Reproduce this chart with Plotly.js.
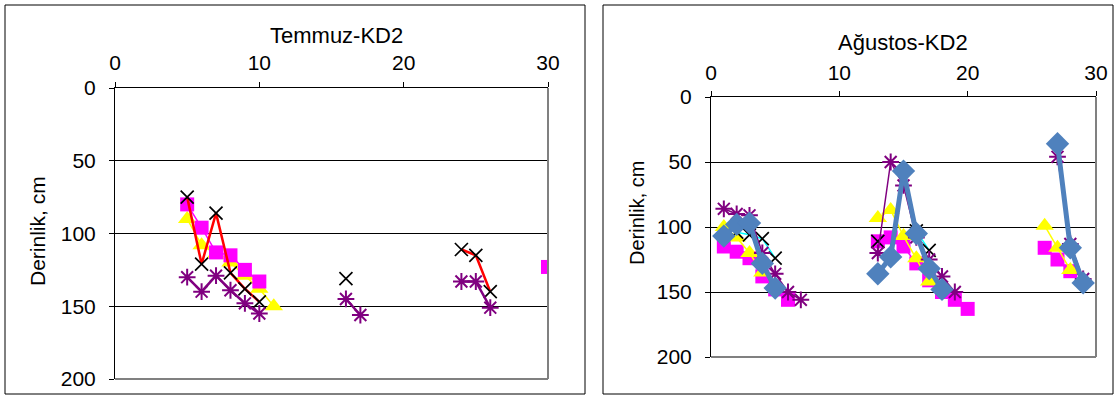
<!DOCTYPE html>
<html>
<head>
<meta charset="utf-8">
<script src="https://cdn.plot.ly/plotly-3.0.1.min.js"></script>
<style>html,body{margin:0;padding:0;background:#fff;}#chart{width:1118px;height:398px;}</style>
</head>
<body>
<div id="chart"></div>
<script>
// ---------- Temmuz-KD2 (left) ----------
const temmuzTitle = "Temmuz-KD2";
const t_magX = [5, 6, 7, 8, 9, 10, null, 30];
const t_magY = [80, 96, 113, 115, 125, 133, null, 123];
const t_yelX = [5, 6, 7, 8, 9, 10, 11];
const t_yelY = [90, 108, 114, 120, 129, 138, 150];
const t_crossX = [5, 6, 7, 8, 9, 10, null, 16, null, 24, 25, 26];
const t_crossY = [75, 121, 86, 127, 138, 147, null, 131, null, 111, 115, 140];
const t_purX = [5, 6, 7, 8, 9, 10, null, 16, 17, null, 24, 25, 26];
const t_purY = [130, 140, 129, 139, 148, 155, null, 145, 156, null, 133, 133, 151];

// ---------- Ağustos-KD2 (right) ----------
const agustosTitle = "Ağustos-KD2";
const a_magX = [1, 2, 3, 4, 5, 6, null, 13, 14, 15, 16, 17, 18, 19, 20, null, 26, 27, 28];
const a_magY = [115, 119, 124, 138, 148, 156, null, 111, 108, 115, 128, 141, 150, 156, 163, null, 116, 125, 134];
const a_yelX = [1, 2, 3, 4, null, 13, 14, 15, 16, 17, null, 26, 27, 28];
const a_yelY = [100, 108, 120, 135, null, 93, 87, 107, 124, 142, null, 99, 116, 133];
const a_crossX = [2, 3, 4, 5, null, 13, null, 16, 17];
const a_crossY = [104, 106, 109, 124, null, 111, null, 103, 118];
const a_purX = [1, 2, 3, 4, 5, 6, 7, null, 13, 14, 15, 16, 17, 18, 19, null, 27, 28, 29];
const a_purY = [86, 90, 91, 120, 136, 150, 156, null, 120, 50, 68, 108, 125, 138, 150, null, 46, 113, 140];
const a_bluX = [1, 2, 3, 4, 5, null, 13, 14, 15, 16, 17, 18, null, 27, 28, 29];
const a_bluY = [107, 98, 97, 128, 147, null, 136, 123, 57, 105, 132, 148, null, 36, 116, 143];

const xTicks = [0, 10, 20, 30];
const yTicks = [0, 50, 100, 150, 200];
const yAxisTitle = "Derinlik, cm";

const FONT = "Arial, 'Liberation Sans', sans-serif";
const W = 1118, H = 398;
const px = v => v / W;
const py = v => 1 - v / H;

function mag(x, y, xa, ya) {
  return {x, y, xaxis: xa, yaxis: ya, type: 'scatter', mode: 'lines+markers',
    line: {color: '#FF00FF', width: 1.5},
    marker: {symbol: 'square', size: 14, color: '#FF00FF'}, hoverinfo: 'skip'};
}
function yel(x, y, xa, ya) {
  return {x, y, xaxis: xa, yaxis: ya, type: 'scatter', mode: 'lines+markers',
    line: {color: '#FFFF00', width: 1.5},
    marker: {symbol: 'triangle-up', size: 16, color: '#FFFF00'}, hoverinfo: 'skip'};
}
function cross(x, y, xa, ya, lc, lw) {
  return {x, y, xaxis: xa, yaxis: ya, type: 'scatter', mode: 'lines+markers',
    line: {color: lc, width: lw},
    marker: {symbol: 'x-thin-open', size: 13, color: '#000000', line: {color: '#000000', width: 1.7}}, hoverinfo: 'skip'};
}
function pur(x, y, xa, ya, lw) {
  return {x, y, xaxis: xa, yaxis: ya, type: 'scatter', mode: 'lines+markers',
    line: {color: '#800080', width: lw},
    marker: {symbol: 'asterisk-open', size: 14, color: '#800080', line: {color: '#800080', width: 2}}, hoverinfo: 'skip'};
}

const data = [
  yel(t_yelX, t_yelY, 'x', 'y'),
  mag(t_magX, t_magY, 'x', 'y'),
  cross(t_crossX, t_crossY, 'x', 'y', '#FF0000', 2.5),
  pur(t_purX, t_purY, 'x', 'y', 2.5),
  mag(a_magX, a_magY, 'x2', 'y2'),
  yel(a_yelX, a_yelY, 'x2', 'y2'),
  cross(a_crossX, a_crossY, 'x2', 'y2', '#00FFFF', 1.5),
  pur(a_purX, a_purY, 'x2', 'y2', 1.5),
  {x: a_bluX, y: a_bluY, xaxis: 'x2', yaxis: 'y2', type: 'scatter', mode: 'lines+markers',
   line: {color: '#4F81BD', width: 5},
   marker: {symbol: 'diamond', size: 18, color: '#4F81BD'}, hoverinfo: 'skip'}
];

function xAxis(dom, anchor, standoff) {
  return {domain: dom, anchor: anchor, side: 'top', range: [0, 30], tickvals: xTicks,
    ticktext: xTicks.map(String), ticks: 'outside', ticklen: 5, tickcolor: '#000', tickwidth: 1,
    showline: true, linecolor: '#000', linewidth: 1, showgrid: false, zeroline: false,
    tickfont: {family: FONT, size: 21, color: '#000'}, ticklabelstandoff: standoff, fixedrange: true};
}
function yAxis(dom, anchor) {
  return {domain: dom, anchor: anchor, range: [200, 0], tickvals: yTicks,
    ticktext: yTicks.map(String), ticks: 'outside', ticklen: 5, tickcolor: '#000', tickwidth: 1,
    showline: true, linecolor: '#000', linewidth: 1, showgrid: true, gridcolor: '#000', gridwidth: 1,
    zeroline: false, tickfont: {family: FONT, size: 21, color: '#000'}, ticklabelstandoff: 9, fixedrange: true};
}

const L = {x0: 115, x1: 548, y0: 88, y1: 379};
const R = {x0: 711, x1: 1096, y0: 97, y1: 357};

const layout = {
  width: W, height: H, margin: {l: 0, r: 0, t: 0, b: 0},
  paper_bgcolor: '#fff', plot_bgcolor: '#fff', showlegend: false,
  font: {family: FONT, color: '#000'},
  xaxis: xAxis([px(L.x0), px(L.x1)], 'y', 4),
  yaxis: yAxis([py(L.y1), py(L.y0)], 'x'),
  xaxis2: xAxis([px(R.x0), px(R.x1)], 'y2', 3),
  yaxis2: yAxis([py(R.y1), py(R.y0)], 'x2'),
  annotations: [
    {text: temmuzTitle, x: px(336), y: py(36), xref: 'paper', yref: 'paper', showarrow: false,
     xanchor: 'center', yanchor: 'middle', font: {family: FONT, size: 22, color: '#000'}},
    {text: agustosTitle, x: px(903), y: py(42), xref: 'paper', yref: 'paper', showarrow: false,
     xanchor: 'center', yanchor: 'middle', font: {family: FONT, size: 22, color: '#000'}},
    {text: yAxisTitle, x: px(37), y: py(231), xref: 'paper', yref: 'paper', showarrow: false,
     textangle: -90, xanchor: 'center', yanchor: 'middle', font: {family: FONT, size: 21, color: '#000'}},
    {text: yAxisTitle, x: px(637), y: py(213), xref: 'paper', yref: 'paper', showarrow: false,
     textangle: -90, xanchor: 'center', yanchor: 'middle', font: {family: FONT, size: 20, color: '#000'}}
  ],
  shapes: [
    {type: 'rect', xref: 'paper', yref: 'paper', x0: px(5), x1: px(585), y0: py(394), y1: py(5), line: {color: '#000', width: 1}},
    {type: 'rect', xref: 'paper', yref: 'paper', x0: px(603), x1: px(1113), y0: py(394), y1: py(5), line: {color: '#000', width: 1}},
    {type: 'line', xref: 'paper', yref: 'paper', x0: px(L.x1), x1: px(L.x1), y0: py(L.y1), y1: py(L.y0), line: {color: '#808080', width: 2}},
    {type: 'line', xref: 'paper', yref: 'paper', x0: px(L.x0), x1: px(L.x1), y0: py(L.y1), y1: py(L.y1), line: {color: '#808080', width: 2}},
    {type: 'line', xref: 'paper', yref: 'paper', x0: px(R.x1), x1: px(R.x1), y0: py(R.y1), y1: py(R.y0), line: {color: '#808080', width: 2}},
    {type: 'line', xref: 'paper', yref: 'paper', x0: px(R.x0), x1: px(R.x1), y0: py(R.y1), y1: py(R.y1), line: {color: '#808080', width: 2}}
  ]
};

Plotly.newPlot('chart', data, layout, {displayModeBar: false, staticPlot: true});
</script>
</body>
</html>
